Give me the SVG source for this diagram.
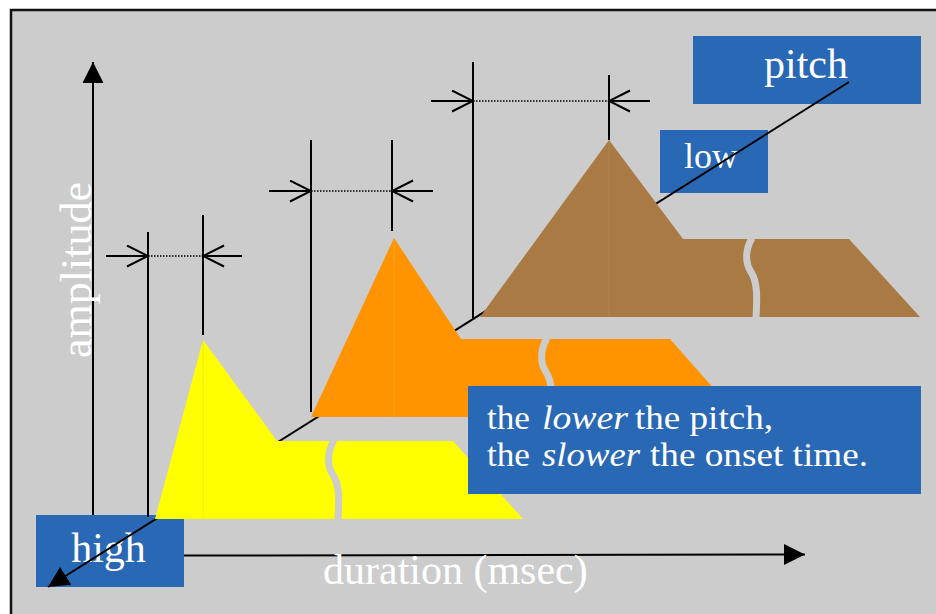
<svg xmlns="http://www.w3.org/2000/svg" width="936" height="614" viewBox="0 0 936 614">
<defs>
<style>
.frame{fill:#CCCCCC;stroke:#111;stroke-width:2.5}
.box{fill:#2868B4}
.lbl{font-family:"Liberation Serif","Times New Roman",serif;fill:#FFFFFF}
.note{font-size:33px}
.it{font-style:italic}
.axis{stroke:#000;stroke-width:2;fill:none}
.dim{stroke:#000;stroke-width:2;fill:none}
.dot{stroke:#000;stroke-width:1.5;stroke-dasharray:1.5 1.5;fill:none}
.brk{stroke:#CCCCCC;stroke-width:7;fill:none;stroke-linecap:butt}
.seam{stroke-width:1;opacity:0.5}
</style>
<marker id="head" markerUnits="userSpaceOnUse" markerWidth="22" markerHeight="22" refX="21" refY="10.5" orient="auto" viewBox="0 0 22 22">
<path d="M0,0 L21,10.5 L0,21 z" fill="#000"/>
</marker>
<marker id="open" markerUnits="userSpaceOnUse" markerWidth="24" markerHeight="24" refX="22" refY="11.5" orient="auto" viewBox="0 0 24 24">
<path d="M1,1 L22,11.5 L1,22" fill="none" stroke="#000" stroke-width="2"/>
</marker>
</defs>

<rect x="0" y="0" width="936" height="614" fill="#FFFFFF"/>
<path class="frame" d="M940,10 L11,10 L11,620 L940,620 Z"/>

<g id="high-label">
<rect class="box" x="36" y="515" width="148" height="72"/>
<text class="lbl" x="108.5" y="562" font-size="42" text-anchor="middle">high</text>
</g>
<g id="low-label">
<rect class="box" x="660" y="130" width="108" height="63"/>
<text class="lbl" x="711" y="168" font-size="36" text-anchor="middle">low</text>
</g>
<g id="pitch-label">
<rect class="box" x="693" y="36" width="228" height="68"/>
<text class="lbl" x="806" y="78" font-size="42" text-anchor="middle">pitch</text>
</g>

<g id="connectors">
<line class="axis" x1="849" y1="82" x2="48" y2="587" marker-end="url(#head)"/>
<line class="axis" x1="93" y1="515" x2="93" y2="62" marker-end="url(#head)"/>
<line class="axis" x1="184" y1="555.5" x2="805" y2="554.5" marker-end="url(#head)"/>
</g>

<g id="brown-envelope">
<polygon points="480,317 609,140 683,239 849,239 920,317" fill="#A97A43"/>
<line class="seam" x1="609" y1="141" x2="609" y2="317" stroke="#C09060"/>
<path class="brk" d="M752,238 C745,250 745,263 751,272 C758,282 757,300 756,318"/>
</g>
<g id="orange-envelope">
<polygon points="311,417 394,238 461,339 670,339 739,417" fill="#FF9400"/>
<line class="seam" x1="394" y1="239" x2="394" y2="417" stroke="#FFB040"/>
<path class="brk" d="M547,338 C540,350 540,363 546,372 C553,382 552,400 551,418"/>
</g>
<g id="yellow-envelope">
<polygon points="155,519 203,340 277,441 453,441 523,519" fill="#FFFF00"/>
<line class="seam" x1="203" y1="341" x2="203" y2="519" stroke="#E0E000"/>
<path class="brk" d="M334,440 C327,452 327,466 333,475 C340,485 339,502 338,520"/>
</g>

<g id="onset-dimensions">
<line class="dim" x1="148" y1="232" x2="148" y2="517"/>
<line class="dim" x1="203" y1="215" x2="203" y2="335"/>
<line class="dim" x1="106" y1="256" x2="148" y2="256" marker-end="url(#open)"/>
<line class="dim" x1="242" y1="256" x2="203" y2="256" marker-end="url(#open)"/>
<line class="dot" x1="148" y1="256" x2="203" y2="256"/>

<line class="dim" x1="311" y1="140" x2="311" y2="412"/>
<line class="dim" x1="392" y1="140" x2="392" y2="231"/>
<line class="dim" x1="269" y1="191" x2="311" y2="191" marker-end="url(#open)"/>
<line class="dim" x1="433" y1="191" x2="392" y2="191" marker-end="url(#open)"/>
<line class="dot" x1="311" y1="191" x2="392" y2="191"/>

<line class="dim" x1="473" y1="62" x2="473" y2="318"/>
<line class="dim" x1="609" y1="75" x2="609" y2="140"/>
<line class="dim" x1="431" y1="101" x2="473" y2="101" marker-end="url(#open)"/>
<line class="dim" x1="650" y1="101" x2="609" y2="101" marker-end="url(#open)"/>
<line class="dot" x1="473" y1="101" x2="609" y2="101"/>
</g>

<g id="note">
<rect class="box" x="468" y="386" width="453" height="108"/>
<text class="lbl note" x="487" y="428.5" textLength="43" lengthAdjust="spacingAndGlyphs">the</text>
<text class="lbl note it" x="542" y="428.5" textLength="86" lengthAdjust="spacingAndGlyphs">lower</text>
<text class="lbl note" x="635" y="428.5" textLength="138" lengthAdjust="spacingAndGlyphs">the pitch,</text>
<text class="lbl note" x="487" y="465.5" textLength="43" lengthAdjust="spacingAndGlyphs">the</text>
<text class="lbl note it" x="542" y="465.5" textLength="98" lengthAdjust="spacingAndGlyphs">slower</text>
<text class="lbl note" x="650" y="465.5" textLength="218" lengthAdjust="spacingAndGlyphs">the onset time.</text>
</g>

<g id="axis-labels">
<text class="lbl" font-size="44" text-anchor="middle" transform="translate(91,270) rotate(-90)" x="0" y="0">amplitude</text>
<text class="lbl" x="323" y="584" font-size="42">duration (msec)</text>
</g>
</svg>
